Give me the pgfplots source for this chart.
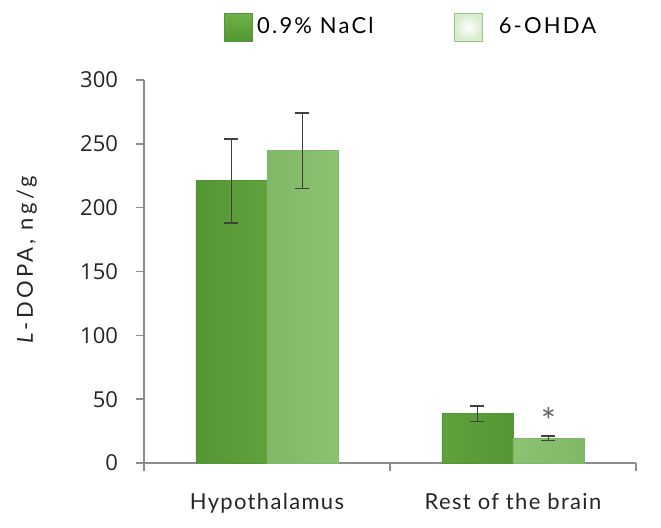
\documentclass[border=0pt]{standalone}
\usepackage{pgfplots}
\pgfplotsset{compat=1.18}
\usepackage{fontspec}
\setmainfont{Lato}
\newfontfamily\tickfont{Open Sans}
\definecolor{naclmid}{HTML}{6DB246}
\definecolor{nacledge}{HTML}{549634}
\definecolor{ohdamid}{HTML}{98D080}
\definecolor{ohdaedge}{HTML}{80B868}
\definecolor{axgray}{HTML}{8C8C8C}
\pgfplotstableread{
x val err
0 221 33
1 38.5 6
}\nacl
\pgfplotstableread{
x val err
0 244.5 29.5
1 19.5 1.8
}\ohda
\begin{document}
\begin{tikzpicture}
\begin{axis}[
  name=ax,
  scale only axis,
  width=246pt, height=191.5pt,
  xmin=-0.5, xmax=1.5, ymin=0, ymax=300,
  axis x line=bottom, axis y line=left,
  axis line style={axgray, line width=0.75pt, -},
  ybar, bar width=35.5pt,
  ytick={0,50,...,300},
  xtick={0,1}, xticklabels={Hypothalamus, Rest of the brain},
  extra x ticks={-0.5,0.5,1.5}, extra x tick labels={},
  extra x tick style={major tick length=4pt, tick style={axgray, line width=0.75pt}},
  major tick length=0pt,
  ytick style={axgray, line width=0.75pt},
  y tick style={/pgfplots/major tick length=4pt},
  tick align=outside,
  yticklabel style={font=\tickfont\fontsize{11}{12}\selectfont, color=black!85, xshift=-9.5pt},
  xticklabel style={font=\fontsize{11}{12}\selectfont\addfontfeature{LetterSpace=6}, color=black!85, yshift=-11.5pt},
  yticklabel={\tickfont\pgfmathprintnumber[assume math mode=true]{\tick}},
  ylabel={\textit{L}-DOPA, ng/g},
  ylabel style={font=\fontsize{11}{12}\selectfont\addfontfeature{LetterSpace=15}, color=black!85, at={(axis description cs:-0.238,0.53)}, anchor=center, rotate=0},
  clip=false,
  legend columns=2,
  legend style={draw=none, fill=none, at={(axis description cs:0.545,1.138)}, anchor=center,
    font=\fontsize{11}{12}\selectfont\addfontfeature{LetterSpace=10}, /tikz/every even column/.append style={column sep=38pt}},
]
\addplot[forget plot, bar shift=-17.75pt, draw=nacledge, line width=0.4pt, left color=nacledge, right color=nacledge, middle color=naclmid,
  error bars/.cd, y dir=both, y explicit, error bar style={black!75, line width=0.8pt},
  error mark options={rotate=90, mark size=3.5pt, black!75, line width=0.8pt}]
  table[x=x, y=val, y error=err] {\nacl};
\addplot[forget plot, bar shift=17.75pt, draw=ohdaedge, line width=0.4pt, left color=ohdaedge, right color=ohdaedge, middle color=ohdamid,
  error bars/.cd, y dir=both, y explicit, error bar style={black!75, line width=0.8pt},
  error mark options={rotate=90, mark size=3.5pt, black!75, line width=0.8pt}]
  table[x=x, y=val, y error=err] {\ohda};
\addlegendimage{legend image code/.code={\path[draw=nacledge, line width=0.6pt, top color=naclmid, bottom color=nacledge] (0pt,-7pt) rectangle (14pt,7pt);}}
\addlegendentry{0.9\% NaCl}
\addlegendimage{legend image code/.code={\path[draw=ohdaedge!80, line width=0.6pt, inner color=white, outer color=ohdamid!40] (0pt,-7pt) rectangle (14pt,7pt);}}
\addlegendentry{\hspace{6pt}6-OHDA}
\node[font=\fontsize{18}{18}\selectfont, color=black!60] at (axis cs:1,33) [xshift=17.75pt, anchor=center] {*};
\end{axis}
\pgfresetboundingbox
\path[use as bounding box] (ax.south west) ++(-72pt,-32.5pt) rectangle ++(330.5pt,264pt);
\end{tikzpicture}
\end{document}
